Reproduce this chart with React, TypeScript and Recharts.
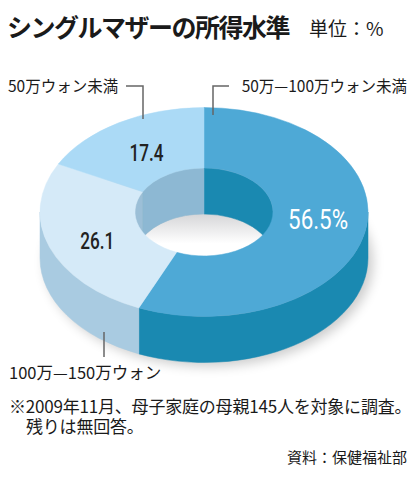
import { PieChart, Pie, Cell } from "recharts";

// income brackets, clockwise from 12 o'clock
const categories = ["50万—100万ウォン未満", "100万—150万ウォン", "50万ウォン未満"];
const shares = [56.5, 26.1, 17.4];
const valueLabels = ["56.5%", "26.1", "17.4"];

const topColors = ["#4ea9d6", "#d5eaf8", "#abdaf6"];
const sideColors = ["#1a89b1", "#a9cbe1", "#8fbad4"];
const wallColors = ["#1a89b1", "#9cbfd7", "#8db8d3"];
const labelColors = ["#ffffff", "#222222", "#222222"];

const data = categories.map((name, idx) => ({ name, value: shares[idx], idx }));

const SQUASH = 0.637; // vertical squash of the tilted ring
const DEPTH = 46; // thickness of the ring
const RAD = Math.PI / 180;
const JP = '"Noto Sans CJK JP", "Noto Sans", sans-serif';
const NUM = "Roboto, sans-serif";

function pt(cx: number, cy: number, r: number, a: number, dy = 0): [number, number] {
  return [cx + r * Math.cos(a * RAD), cy - r * SQUASH * Math.sin(a * RAD) + dy];
}

function arcTo(cx: number, cy: number, r: number, a0: number, a1: number, dy = 0) {
  const [x, y] = pt(cx, cy, r, a1, dy);
  const large = Math.abs(a1 - a0) > 180 ? 1 : 0;
  const sweep = a1 < a0 ? 1 : 0;
  return `A ${r} ${r * SQUASH} 0 ${large} ${sweep} ${x} ${y}`;
}

function band(cx: number, cy: number, r: number, hi: number, lo: number) {
  const [x0, y0] = pt(cx, cy, r, hi);
  const [x1, y1] = pt(cx, cy, r, lo, DEPTH);
  return `M ${x0} ${y0} ${arcTo(cx, cy, r, hi, lo)} L ${x1} ${y1} ${arcTo(cx, cy, r, lo, hi, DEPTH)} Z`;
}

function idxOf(props: any): number {
  return props.idx ?? props.payload?.idx ?? 0;
}

function OuterSide(props: any) {
  const { cx, cy, outerRadius: ro, startAngle: a0, endAngle: a1 } = props;
  const i = idxOf(props);
  const hi = Math.min(a0, 0);
  const lo = Math.max(a1, -180);
  return (
    <g>
      {i === 0 && (
        <>
          <defs>
            <filter id="ringShadow" x="-20%" y="-20%" width="140%" height="140%">
              <feGaussianBlur stdDeviation="6" />
            </filter>
          </defs>
          <ellipse
            cx={cx + 5}
            cy={cy + DEPTH + 4}
            rx={ro}
            ry={ro * SQUASH}
            fill="#000"
            opacity={0.2}
            filter="url(#ringShadow)"
          />
        </>
      )}
      {hi > lo && <path d={band(cx, cy, ro, hi, lo)} fill={sideColors[i]} stroke={sideColors[i]} strokeWidth={0.5} />}
    </g>
  );
}

function InnerWall(props: any) {
  const { cx, cy, innerRadius: ri, startAngle: a0, endAngle: a1 } = props;
  const i = idxOf(props);
  const parts = [
    [0, 90],
    [-270, -180],
  ]
    .map(([r0, r1]) => [Math.min(a0, r1), Math.max(a1, r0)])
    .filter(([hi, lo]) => hi > lo);
  const riy = ri * SQUASH;
  return (
    <g>
      {i === 0 && (
        <>
          <defs>
            <linearGradient
              id="floorGrad"
              gradientUnits="userSpaceOnUse"
              x1={0}
              x2={0}
              y1={cy + DEPTH - riy}
              y2={cy + riy}
            >
              <stop offset="0" stopColor="#d6d6d8" />
              <stop offset="0.7" stopColor="#ffffff" />
            </linearGradient>
          </defs>
          <ellipse cx={cx} cy={cy + DEPTH} rx={ri} ry={riy} fill="url(#floorGrad)" />
        </>
      )}
      {parts.map(([hi, lo], k) => (
        <path key={k} d={band(cx, cy, ri, hi, lo)} fill={wallColors[i]} stroke={wallColors[i]} strokeWidth={0.5} />
      ))}
    </g>
  );
}

function TopFace(props: any) {
  const { cx, cy, innerRadius: ri, outerRadius: ro, startAngle: a0, endAngle: a1 } = props;
  const i = idxOf(props);
  const [x0, y0] = pt(cx, cy, ro, a0);
  const [x1, y1] = pt(cx, cy, ri, a1);
  const d = `M ${x0} ${y0} ${arcTo(cx, cy, ro, a0, a1)} L ${x1} ${y1} ${arcTo(cx, cy, ri, a1, a0)} Z`;
  return <path d={d} fill={topColors[i]} stroke={topColors[i]} strokeWidth={0.5} />;
}

// small hand nudges so the numbers sit where the print put them
const nudge = [
  [0, -8],
  [3, 4],
  [3, 4],
];

function ValueLabel(props: any) {
  const { cx, cy, midAngle, innerRadius, outerRadius, index } = props;
  const [x, y] = pt(cx, cy, (innerRadius + outerRadius) / 2, midAngle);
  const big = index === 0;
  return (
    <text
      x={x + nudge[index][0]}
      y={y + nudge[index][1]}
      textAnchor="middle"
      dominantBaseline="central"
      fill={labelColors[index]}
      fontFamily={NUM}
      fontSize={big ? 28 : 24}
      fontWeight={big ? 400 : 500}
      textLength={big ? 60 : 34}
      lengthAdjust="spacingAndGlyphs"
    >
      {valueLabels[index]}
    </text>
  );
}

const pieProps = {
  data,
  dataKey: "value",
  nameKey: "name",
  cx: 204,
  cy: 212,
  innerRadius: 69,
  outerRadius: 164,
  startAngle: 90,
  endAngle: -270,
  stroke: "none",
  isAnimationActive: false,
};

export default function App() {
  return (
    <div
      style={{
        position: "absolute",
        left: 0,
        top: 0,
        width: 417,
        height: 478,
        background: "#fff",
        fontFamily: JP,
        color: "#1a1a1a",
      }}
    >
      <div style={{ position: "absolute", left: 7, top: 10, fontSize: 25, fontWeight: 700, letterSpacing: -1.5, lineHeight: "32px" }}>
        シングルマザーの所得水準
      </div>
      <div style={{ position: "absolute", left: 309, top: 15, fontSize: 19, lineHeight: "26px" }}>単位：%</div>

      <div style={{ position: "absolute", left: 0, top: 0 }}>
        <PieChart width={417} height={478} margin={{ top: 0, right: 0, bottom: 0, left: 0 }}>
          <Pie {...pieProps} shape={OuterSide}>
            {data.map((d) => (
              <Cell key={d.name} fill={sideColors[d.idx]} />
            ))}
          </Pie>
          <Pie {...pieProps} shape={InnerWall}>
            {data.map((d) => (
              <Cell key={d.name} fill={wallColors[d.idx]} />
            ))}
          </Pie>
          <Pie {...pieProps} shape={TopFace} label={ValueLabel} labelLine={false}>
            {data.map((d) => (
              <Cell key={d.name} fill={topColors[d.idx]} />
            ))}
          </Pie>
        </PieChart>
      </div>

      <svg width={417} height={478} style={{ position: "absolute", left: 0, top: 0, pointerEvents: "none" }}>
        <polyline points="126,86 143,86 143,119" fill="none" stroke="#666" strokeWidth={1.5} />
        <polyline points="229,86 213,86 213,115" fill="none" stroke="#666" strokeWidth={1.5} />
        <line x1={104} y1={332} x2={104} y2={357} stroke="#666" strokeWidth={1.5} />
      </svg>

      <div style={{ position: "absolute", left: 8, top: 75, fontSize: 15.5, lineHeight: "20px" }}>{categories[2]}</div>
      <div style={{ position: "absolute", right: 10, top: 75, fontSize: 15.5, lineHeight: "20px" }}>{categories[0]}</div>
      <div style={{ position: "absolute", left: 9, top: 362, fontSize: 16.5, lineHeight: "20px" }}>{categories[1]}</div>

      <div style={{ position: "absolute", left: 9, top: 396, fontSize: 17, lineHeight: "19px", letterSpacing: -0.2, whiteSpace: "nowrap" }}>
        ※2009年11月、母子家庭の母親145人を対象に調査。
      </div>
      <div style={{ position: "absolute", left: 26, top: 416, fontSize: 17, lineHeight: "19px", letterSpacing: -0.2 }}>
        残りは無回答。
      </div>
      <div style={{ position: "absolute", right: 10, top: 447, fontSize: 15, lineHeight: "20px" }}>資料：保健福祉部</div>
    </div>
  );
}
